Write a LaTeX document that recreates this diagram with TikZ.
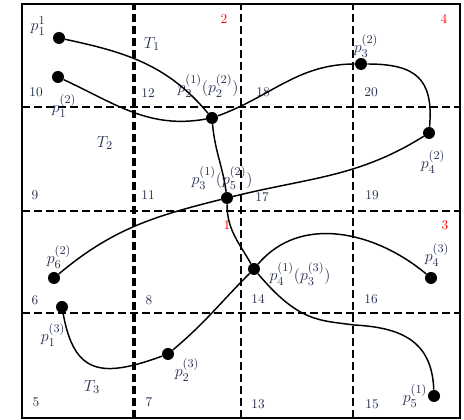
\documentclass[tikz,border=0pt]{standalone}
\usepackage{amsmath}
\usetikzlibrary{positioning}
\definecolor{ink}{RGB}{40,48,82}
\begin{document}
\begin{tikzpicture}[x=0.75pt, y=0.75pt,
  dot/.style={circle, fill=black, inner sep=0pt, minimum size=9pt},
  lbl/.style={text=ink, font=\fontsize{13}{15}\selectfont, inner sep=0pt},
  num/.style={text=ink, font=\fontsize{10}{12}\selectfont, inner sep=0pt},
  rnum/.style={text=red, font=\fontsize{10}{12}\selectfont, inner sep=0pt},
  cut/.style={dash pattern=on 6pt off 3pt, line width=1.5pt},
  traj/.style={line width=1.1pt}]
\useasboundingbox (0,0) rectangle (464,420);
\draw[cut] (22,313) -- (460,313);
\draw[cut] (22,209) -- (460,209);
\draw[cut] (22,107) -- (460,107);
\draw[cut, line width=2.3pt] (134,2) -- (134,416);
\draw[cut, line width=1.3pt] (241,2) -- (241,416);
\draw[cut] (353,2) -- (353,416);
\draw[line width=2pt] (22,2) rectangle (460,416);
\node[num] (c10) at (36,328) {10};
\node[num] (c12) at (148,327) {12};
\node[num] (c18) at (263,328) {18};
\node[num] (c20) at (371,328) {20};
\node[num] (c9) at (35,225) {9};
\node[num] (c11) at (148,225) {11};
\node[num] (c17) at (262,223) {17};
\node[num] (c19) at (372,225) {19};
\node[num] (c6) at (35,120) {6};
\node[num] (c8) at (149,120) {8};
\node[num] (c14) at (258,121) {14};
\node[num] (c16) at (371,121) {16};
\node[num] (c5) at (36,18) {5};
\node[num] (c7) at (149,18) {7};
\node[num] (c13) at (258,16) {13};
\node[num] (c15) at (372,16) {15};
\node[rnum] (r1) at (227,195) {1};
\node[rnum] (r2) at (224,401) {2};
\node[rnum] (r3) at (445,195) {3};
\node[rnum] (r4) at (444,401) {4};
\node[lbl] (tr1) at (152,376) {$T_1$};
\node[lbl] (tr2) at (105,277) {$T_2$};
\node[lbl] (tr3) at (92,33) {$T_3$};
\node[dot] (t1p1) at (59,382) {};
\node[dot] (t1p2) at (212,302) {};
\node[dot] (t1p3) at (227,222) {};
\node[dot] (t1p4) at (254,151) {};
\node[dot] (t1p5) at (434,24) {};
\node[dot] (t2p1) at (58,343) {};
\node[dot] (t2p3) at (361,356) {};
\node[dot] (t2p4) at (429,287) {};
\node[dot] (t2p6) at (54,142) {};
\node[dot] (t3p1) at (62,113) {};
\node[dot] (t3p2) at (168,66) {};
\node[dot] (t3p4) at (431,142) {};
\coordinate (t1bend) at (354,95);
\node[lbl] (l1p1) at (38,394) {$p_1^1$};
\node[lbl] (l1p2) at (208,334) {$p_2^{(1)}(p_2^{(2)})$};
\node[lbl] (l1p3) at (222,242) {$p_3^{(1)}(p_5^{(2)})$};
\node[lbl] (l1p4) at (300,146) {$p_4^{(1)}(p_3^{(3)})$};
\node[lbl] (l1p5) at (415,24) {$p_5^{(1)}$};
\node[lbl] (l2p1) at (64,314) {$p_1^{(2)}$};
\node[lbl] (l2p3) at (366,374) {$p_3^{(2)}$};
\node[lbl] (l2p4) at (433,258) {$p_4^{(2)}$};
\node[lbl] (l2p6) at (59,163) {$p_6^{(2)}$};
\node[lbl] (l3p1) at (53,85) {$p_1^{(3)}$};
\node[lbl] (l3p2) at (187,50) {$p_2^{(3)}$};
\node[lbl] (l3p4) at (437,165) {$p_4^{(3)}$};
\draw[traj] (t1p1) to[out=-12, in=130] (t1p2) to[out=-85, in=98] (t1p3)
  to[out=-90, in=120] (t1p4)
  to[out=-50, in=172, out looseness=1.5, in looseness=0.8] (t1bend)
  to[out=-3, in=92, looseness=1.2] (t1p5);
\draw[traj] (t2p1) to[out=-25, in=190] (t1p2) to[out=20, in=180] (t2p3)
  to[out=0, in=85, looseness=1.4] (t2p4) to[out=212, in=14] (t1p3)
  to[out=194, in=40] (t2p6);
\draw[traj] (t3p1) to[out=-80, in=200, looseness=1.5] (t3p2)
  to[out=40, in=225] (t1p4) to[out=50, in=140] (t3p4);
\end{tikzpicture}
\end{document}
